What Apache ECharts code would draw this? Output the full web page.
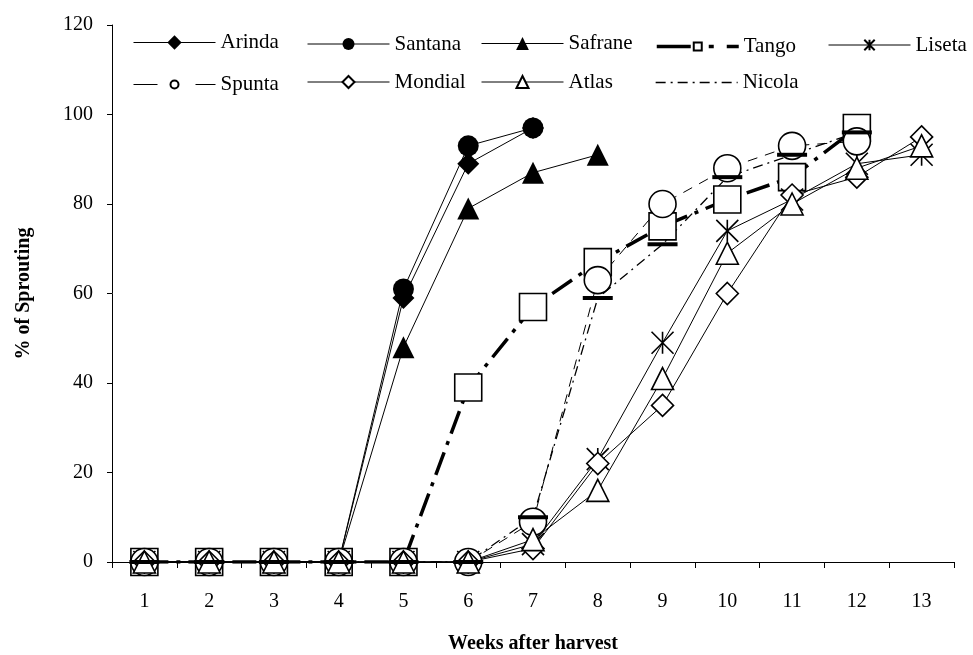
<!DOCTYPE html>
<html>
<head>
<meta charset="utf-8">
<script src="https://cdn.jsdelivr.net/npm/echarts@6/dist/echarts.min.js"></script>
<style>
  html, body { margin: 0; padding: 0; background: #fff; }
  #chart { width: 973px; height: 655px; }
</style>
</head>
<body>
<div id="chart"></div>
<script>
// Weeks after harvest (category axis)
const weeks = ['1', '2', '3', '4', '5', '6', '7', '8', '9', '10', '11', '12', '13'];
const yTicks = { min: 0, max: 120, step: 20 };

// % of sprouting per variety, week 1 onwards
const arinda  = [0, 0, 0, 0, 59, 89, 97];
const santana = [0, 0, 0, 0, 61, 93, 97];
const safrane = [0, 0, 0, 0, 48, 79, 87, 91];
const tango   = [0, 0, 0, 0, 0, 39, 57, 67, 75, 81, 86, 97];
const liseta  = [0, 0, 0, 0, 0, 0, 4, 23, 49, 74, 81, 89, 91];
const spunta  = [0, 0, 0, 0, 0, 0, 9, 63, 80, 88, 93, 94];
const mondial = [0, 0, 0, 0, 0, 0, 3, 22, 35, 60, 82, 86, 95];
const atlas   = [0, 0, 0, 0, 0, 0, 5, 16, 41, 69, 80, 88, 93];
const nicola  = [0, 0, 0, 0, 0, 0, 10, 59, 71, 86, 91, 96];

const FONT = '"Liberation Serif", "Times New Roman", serif';
const ASTERISK = 'path://M0,0L10,10M10,0L0,10M5,0L5,10';

// Per-series drawing style (legendDash: dash pattern of the short legend sample)
const seriesDefs = [
  { name: 'Arinda',  data: arinda,  symbol: 'diamond',  size: 22, fill: '#000', line: { width: 1, type: 'solid' }, legendH: 18 },
  { name: 'Santana', data: santana, symbol: 'circle',   size: 21, fill: '#000', line: { width: 1, type: 'solid' }, legendH: 15 },
  { name: 'Safrane', data: safrane, symbol: 'triangle', size: 22, fill: '#000', line: { width: 1, type: 'solid' }, legendH: 16 },
  { name: 'Tango',   data: tango,   symbol: 'rect',     size: 27, fill: '#fff', line: { width: 3.5, type: [24, 8, 4, 8] }, legendH: 10, legendDash: [34, 18, 5, 13, 14, 20] },
  { name: 'Liseta',  data: liseta,  symbol: ASTERISK,   size: 22, fill: '#000', line: { width: 1, type: 'solid' }, legendH: 13 },
  { name: 'Spunta',  data: spunta,  symbol: 'circle',   size: 27, fill: '#fff', line: { width: 1, type: [10, 8] }, legendH: 10, legendDash: [24, 38] },
  { name: 'Mondial', data: mondial, symbol: 'diamond',  size: 22, fill: '#fff', line: { width: 1, type: 'solid' }, legendH: 15 },
  { name: 'Atlas',   data: atlas,   symbol: 'triangle', size: 22, fill: '#fff', line: { width: 1, type: 'solid' }, legendH: 15 },
  { name: 'Nicola',  data: nicola,  symbol: 'rect',     size: [30, 4], fill: '#000', line: { width: 1.3, type: [10, 5, 2, 5] }, legendH: 14, hideLegendSymbol: true }
];

const legendCols = [133, 307, 481, 655, 828];
const legendRows = [41, 79];

const legends = seriesDefs.map((s, i) => {
  const row = i < 5 ? 0 : 1;
  const col = i < 5 ? i : i - 5;
  const lg = {
    data: [s.name],
    left: legendCols[col],
    top: legendRows[row] - s.legendH / 2,
    itemWidth: 82,
    itemHeight: s.legendH,
    selectedMode: false,
    padding: 0,
    lineStyle: { width: s.line.width, type: s.legendDash || s.line.type },
    textStyle: { fontFamily: FONT, fontSize: 21, color: '#000' }
  };
  if (s.hideLegendSymbol) lg.itemStyle = { opacity: 0 };
  return lg;
});

const series = seriesDefs.map(s => ({
  name: s.name,
  type: 'line',
  data: s.data,
  symbol: s.symbol,
  symbolSize: s.size,
  showAllSymbol: true,
  color: '#000',
  itemStyle: {
    color: s.fill,
    borderColor: '#000',
    borderWidth: s.fill === '#fff' || s.symbol === ASTERISK ? 1.6 : 0
  },
  lineStyle: { color: '#000', width: s.line.width, type: s.line.type },
  emphasis: { disabled: true },
  silent: true
}));

const chart = echarts.init(document.getElementById('chart'), null, { renderer: 'canvas' });
chart.setOption({
  animation: false,
  backgroundColor: '#fff',
  grid: { left: 112, right: 19, top: 25, bottom: 93, containLabel: false, outerBoundsMode: 'none' },
  legend: legends,
  xAxis: {
    type: 'category',
    data: weeks,
    boundaryGap: true,
    name: 'Weeks after harvest',
    nameLocation: 'middle',
    nameGap: 72,
    nameTextStyle: { fontFamily: FONT, fontSize: 20, fontWeight: 'bold', color: '#000' },
    axisLine: { lineStyle: { color: '#000', width: 1 } },
    axisTick: { show: true, length: 6, lineStyle: { color: '#000' } },
    axisLabel: { fontFamily: FONT, fontSize: 20, color: '#000', margin: 30 },
    splitLine: { show: false }
  },
  yAxis: {
    type: 'value',
    min: yTicks.min,
    max: yTicks.max,
    interval: yTicks.step,
    name: '% of Sprouting',
    nameLocation: 'middle',
    nameGap: 78,
    nameTextStyle: { fontFamily: FONT, fontSize: 20, fontWeight: 'bold', color: '#000' },
    axisLine: { show: true, lineStyle: { color: '#000', width: 1 } },
    axisTick: { show: true, length: 5, lineStyle: { color: '#000' } },
    axisLabel: { fontFamily: FONT, fontSize: 20, color: '#000', margin: 19 },
    splitLine: { show: false }
  },
  series: series
});
</script>
</body>
</html>
